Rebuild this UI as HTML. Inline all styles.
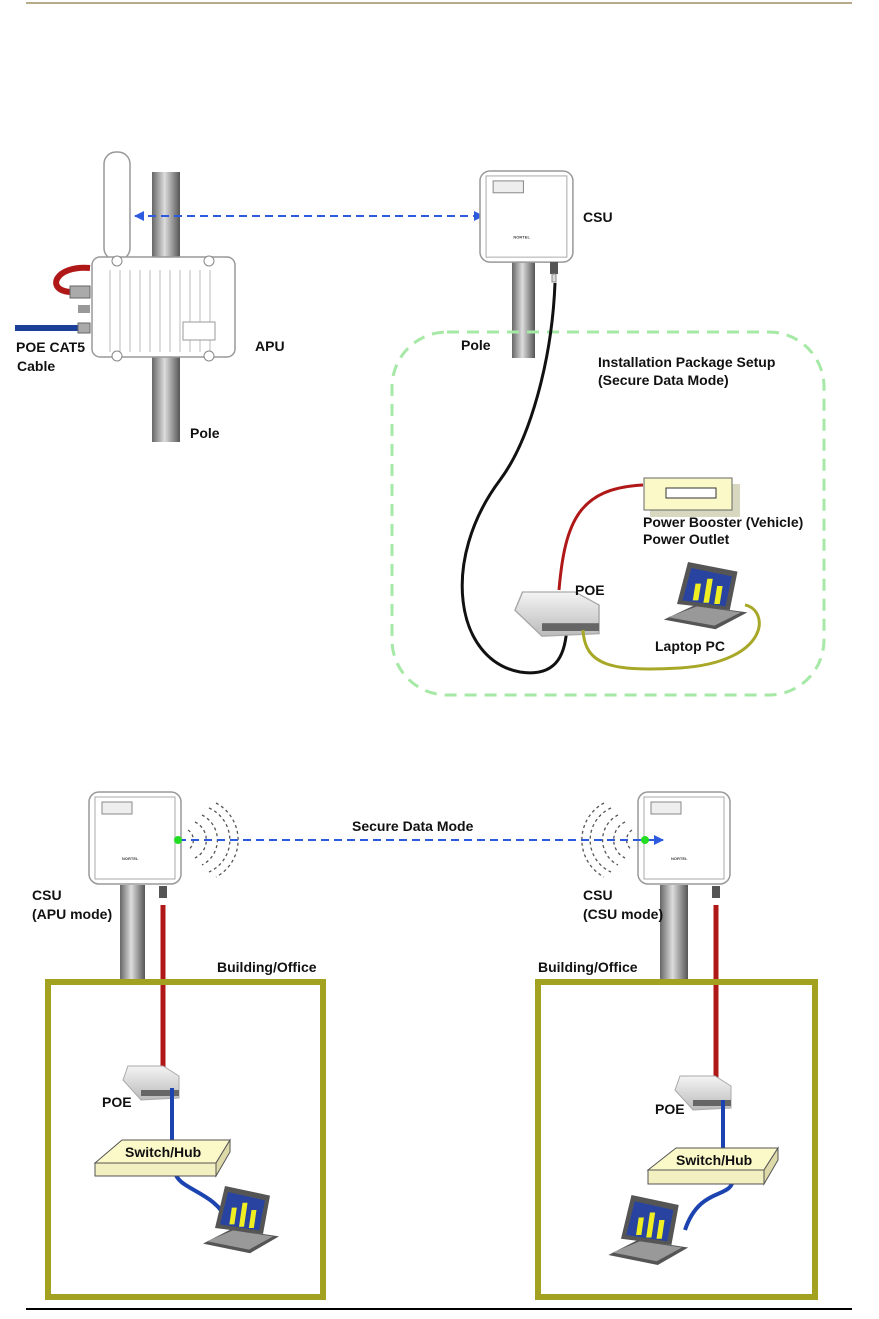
<!DOCTYPE html>
<html><head><meta charset="utf-8"><style>
html,body{margin:0;padding:0;background:#fff}
svg{display:block}
text{font-family:"Liberation Sans",sans-serif;font-weight:bold;font-size:14px;fill:#111}
</style></head><body>
<svg width="879" height="1319" viewBox="0 0 879 1319" xmlns="http://www.w3.org/2000/svg">
<defs>
<linearGradient id="pole" x1="0" x2="1" y1="0" y2="0">
<stop offset="0" stop-color="#666"/><stop offset="0.45" stop-color="#ddd"/><stop offset="1" stop-color="#555"/>
</linearGradient>
<linearGradient id="poe" x1="0" x2="0" y1="0" y2="1">
<stop offset="0" stop-color="#f4f4f4"/><stop offset="1" stop-color="#bbb"/>
</linearGradient>
<g id="csu">
<rect x="0" y="0" width="92" height="92" rx="10" fill="#fff" stroke="#999" stroke-width="1.5"/>
<rect x="6" y="5" width="80" height="82" fill="none" stroke="#aaa"/>
<rect x="13" y="10" width="30" height="12" fill="#eee" stroke="#888"/>
<text x="33" y="68" style="font-size:4px;fill:#444">NORTEL</text>
</g>
<g id="laptop">
<polygon points="8,48 55,56 84,42 36,36" fill="#555"/>
<polygon points="12,46 54,53 78,42 38,37" fill="#999"/>
<polygon points="20,35 30,0 75,8 68,40" fill="#555"/>
<polygon points="25,32 33,5 70,12 64,37" fill="#2844a0"/>
<rect x="40" y="18" width="5" height="14" fill="#ee2" transform="skewX(-10)"/>
<rect x="50" y="14" width="5" height="20" fill="#ee2" transform="skewX(-10)"/>
<rect x="60" y="20" width="5" height="15" fill="#ee2" transform="skewX(-10)"/>
</g>
<g id="poebox">
<polygon points="5,0 40,0 56,10 56,32 18,34 0,14" fill="url(#poe)" stroke="#aaa"/>
<rect x="18" y="24" width="38" height="6" fill="#666"/>
</g>
<marker id="ah" viewBox="0 0 10 10" refX="9" refY="5" markerWidth="5" markerHeight="5" orient="auto-start-reverse"><path d="M0,0 L10,5 L0,10z" fill="#2c5be0"/></marker>
</defs>

<line x1="26" y1="3" x2="852" y2="3" stroke="#b8ab8a" stroke-width="2"/>
<line x1="26" y1="1309" x2="852" y2="1309" stroke="#000" stroke-width="2"/>

<!-- TOP FIGURE -->
<rect x="152" y="172" width="28" height="270" fill="url(#pole)"/>
<rect x="104" y="152" width="26" height="108" rx="12" fill="#fff" stroke="#999" stroke-width="1.5"/>
<rect x="92" y="257" width="143" height="100" rx="8" fill="#fff" stroke="#999" stroke-width="1.5"/>
<g stroke="#bbb" stroke-width="1">
<line x1="110" y1="270" x2="110" y2="352"/><line x1="120" y1="270" x2="120" y2="352"/><line x1="130" y1="270" x2="130" y2="352"/><line x1="140" y1="270" x2="140" y2="352"/><line x1="150" y1="270" x2="150" y2="352"/><line x1="160" y1="270" x2="160" y2="352"/><line x1="170" y1="270" x2="170" y2="352"/><line x1="180" y1="270" x2="180" y2="352"/><line x1="190" y1="270" x2="190" y2="352"/><line x1="200" y1="270" x2="200" y2="352"/><line x1="210" y1="270" x2="210" y2="352"/>
</g>
<rect x="183" y="322" width="32" height="18" fill="#fff" stroke="#999"/>
<circle cx="117" cy="261" r="5" fill="#fff" stroke="#888"/><circle cx="209" cy="261" r="5" fill="#fff" stroke="#888"/>
<circle cx="117" cy="356" r="5" fill="#fff" stroke="#888"/><circle cx="209" cy="356" r="5" fill="#fff" stroke="#888"/>
<path d="M90,268 C55,265 45,290 70,292" fill="none" stroke="#b01818" stroke-width="6"/>
<rect x="70" y="286" width="20" height="12" fill="#aaa" stroke="#666"/>
<rect x="78" y="305" width="12" height="8" fill="#999"/>
<line x1="15" y1="328" x2="80" y2="328" stroke="#1c3f9a" stroke-width="6"/>
<rect x="78" y="323" width="12" height="10" fill="#aaa" stroke="#666"/>
<text x="16" y="352">POE CAT5</text><text x="17" y="371">Cable</text>
<text x="255" y="351">APU</text><text x="190" y="438">Pole</text>

<line x1="135" y1="216" x2="483" y2="216" stroke="#2c5be0" stroke-width="2" stroke-dasharray="8,5" marker-start="url(#ah)" marker-end="url(#ah)"/>

<rect x="512" y="262" width="23" height="96" fill="url(#pole)"/>
<use href="#csu" transform="translate(480,171) scale(1.01,0.99)"/>
<rect x="550" y="262" width="8" height="12" fill="#555"/>
<rect x="552" y="274" width="4" height="8" fill="#ddd" stroke="#888"/>
<text x="583" y="222">CSU</text><text x="461" y="350">Pole</text>

<rect x="392" y="332" width="432" height="363" rx="55" fill="none" stroke="#a6e8a6" stroke-width="3" stroke-dasharray="12,8"/>
<text x="598" y="367">Installation Package Setup</text>
<text x="598" y="385">(Secure Data Mode)</text>

<path d="M555,283 C552,360 530,440 500,480 C440,560 455,660 520,672 C560,678 565,650 567,628" fill="none" stroke="#111" stroke-width="3"/>
<path d="M559,590 C565,520 580,488 643,485" fill="none" stroke="#b01818" stroke-width="3"/>
<rect x="650" y="484" width="90" height="33" fill="#d8d8c0"/>
<rect x="644" y="478" width="88" height="32" fill="#fbf9c8" stroke="#666"/>
<rect x="666" y="488" width="50" height="10" fill="#fff" stroke="#333"/>
<text x="643" y="527">Power Booster (Vehicle)</text><text x="643" y="544">Power Outlet</text>

<use href="#poebox" transform="translate(515,592) scale(1.5,1.3)"/>
<path d="M583,630 C585,665 610,672 680,668 C770,662 770,610 745,605" fill="none" stroke="#a8a828" stroke-width="3"/>
<text x="575" y="595">POE</text>
<use href="#laptop" transform="translate(655,562) scale(1.1,1.2)"/>
<text x="655" y="651">Laptop PC</text>

<!-- BOTTOM FIGURE -->
<rect x="120" y="885" width="25" height="95" fill="url(#pole)"/>
<rect x="660" y="885" width="28" height="95" fill="url(#pole)"/>
<use href="#csu" transform="translate(89,792)"/>
<use href="#csu" transform="translate(638,792)"/>
<rect x="159" y="886" width="8" height="12" fill="#555"/>
<rect x="712" y="886" width="8" height="12" fill="#555"/>
<line x1="163" y1="905" x2="163" y2="1088" stroke="#b01818" stroke-width="5"/>
<line x1="716" y1="905" x2="716" y2="1100" stroke="#b01818" stroke-width="5"/>

<g fill="none" stroke="#555" stroke-width="1.3" stroke-dasharray="3,3">
<path d="M188,830 A12,12 0 0 1 188,850"/><path d="M195,822 A20,20 0 0 1 195,858"/><path d="M202,815 A28,28 0 0 1 202,865"/><path d="M209,808 A35,35 0 0 1 209,872"/><path d="M216,803 A42,42 0 0 1 216,877"/>
<path d="M632,830 A12,12 0 0 0 632,850"/><path d="M625,822 A20,20 0 0 0 625,858"/><path d="M618,815 A28,28 0 0 0 618,865"/><path d="M611,808 A35,35 0 0 0 611,872"/><path d="M604,803 A42,42 0 0 0 604,877"/>
</g>
<line x1="178" y1="840" x2="663" y2="840" stroke="#2c5be0" stroke-width="2" stroke-dasharray="8,5" marker-end="url(#ah)"/>
<circle cx="178" cy="840" r="4" fill="#2d2"/><circle cx="645" cy="840" r="4" fill="#2d2"/>
<text x="352" y="831">Secure Data Mode</text>
<text x="32" y="900">CSU</text><text x="32" y="919">(APU mode)</text>
<text x="583" y="900">CSU</text><text x="583" y="919">(CSU mode)</text>
<text x="217" y="972">Building/Office</text><text x="538" y="972">Building/Office</text>

<rect x="48" y="982" width="275" height="315" fill="none" stroke="#a3a220" stroke-width="6"/>
<rect x="538" y="982" width="277" height="315" fill="none" stroke="#a3a220" stroke-width="6"/>

<use href="#poebox" transform="translate(123,1066)"/>
<line x1="172" y1="1088" x2="172" y2="1140" stroke="#1c44b0" stroke-width="4"/>
<path d="M175,1170 C175,1190 215,1190 228,1222" fill="none" stroke="#1c44b0" stroke-width="4"/>
<text x="102" y="1107">POE</text>
<polygon points="95,1163 122,1140 230,1140 216,1163" fill="#fbf9c8" stroke="#555"/>
<polygon points="95,1163 216,1163 216,1176 95,1176" fill="#f2efc0" stroke="#555"/>
<polygon points="216,1163 230,1140 230,1152 216,1176" fill="#ddd9a8" stroke="#555"/>
<text x="125" y="1157">Switch/Hub</text>
<use href="#laptop" transform="translate(195,1186) scale(1,1.2)"/>

<use href="#poebox" transform="translate(675,1076)"/>
<line x1="723" y1="1100" x2="723" y2="1150" stroke="#1c44b0" stroke-width="4"/>
<path d="M733,1178 C733,1200 700,1185 685,1230" fill="none" stroke="#1c44b0" stroke-width="4"/>
<text x="655" y="1114">POE</text>
<polygon points="648,1170 676,1148 778,1148 764,1170" fill="#fbf9c8" stroke="#555"/>
<polygon points="648,1170 764,1170 764,1184 648,1184" fill="#f2efc0" stroke="#555"/>
<polygon points="764,1170 778,1148 778,1160 764,1184" fill="#ddd9a8" stroke="#555"/>
<text x="676" y="1165">Switch/Hub</text>
<use href="#laptop" transform="translate(600,1195) scale(1.05,1.25)"/>
</svg>
</body></html>
